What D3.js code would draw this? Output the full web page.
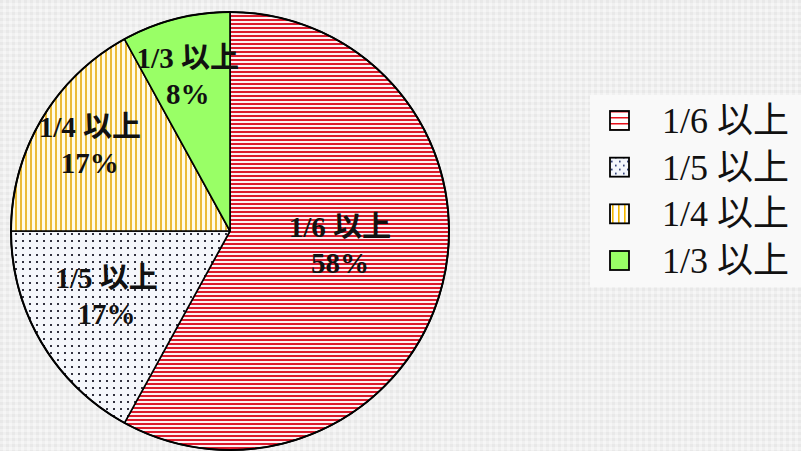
<!DOCTYPE html>
<html>
<head>
<meta charset="utf-8">
<script src="https://cdn.jsdelivr.net/npm/d3@7"></script>
<style>
  html, body { margin: 0; padding: 0; background: #eeeeee; }
  svg { display: block; }
</style>
</head>
<body>
<script>
// data
const categories = ["1/6 以上", "1/5 以上", "1/4 以上", "1/3 以上"];
const shares = [58, 17, 17, 8];

// layout
const width = 801;
const height = 451;
const cx = 230, cy = 231, radius = 219;
const labelRadius = [111, 140, 164, 160];      // label distance from center
const labelTurn = [-6.6, 2.4, 0.7, -0.9];      // small angle nudge, degrees
const fills = ["url(#p-red)", "url(#p-dots)", "url(#p-yellow)", "#99ff66"];
const legendFills = ["url(#l-red)", "url(#l-dots)", "url(#l-yellow)", "#99ff66"];
const serif = "'Liberation Serif', 'Times New Roman', 'Noto Sans CJK JP', serif";

const svg = d3.select("body")
    .append("svg")
    .attr("width", width)
    .attr("height", height);

const defs = svg.append("defs");

// page texture
const bg = defs.append("pattern").attr("id", "p-bg")
    .attr("patternUnits", "userSpaceOnUse").attr("width", 6).attr("height", 6);
bg.append("rect").attr("width", 6).attr("height", 6).attr("fill", "#f0f0f0");
bg.append("rect").attr("width", 3).attr("height", 3).attr("fill", "#e8e8e8");
bg.append("rect").attr("x", 3).attr("y", 3).attr("width", 3).attr("height", 3).attr("fill", "#f6f6f6");

// red horizontal stripes
const red = defs.append("pattern").attr("id", "p-red")
    .attr("patternUnits", "userSpaceOnUse").attr("width", 8).attr("height", 4);
red.append("rect").attr("width", 8).attr("height", 4).attr("fill", "#fdf0f2");
red.append("rect").attr("width", 8).attr("height", 2).attr("fill", "#dc1a2c");

// dots
const dots = defs.append("pattern").attr("id", "p-dots")
    .attr("patternUnits", "userSpaceOnUse").attr("width", 7).attr("height", 7);
dots.append("rect").attr("width", 7).attr("height", 7).attr("fill", "#f5f7fb");
dots.append("rect").attr("x", 2).attr("y", 2).attr("width", 2).attr("height", 2).attr("fill", "#333340");

// yellow vertical stripes
const yel = defs.append("pattern").attr("id", "p-yellow")
    .attr("patternUnits", "userSpaceOnUse").attr("width", 5).attr("height", 8);
yel.append("rect").attr("width", 5).attr("height", 8).attr("fill", "#fffbe6");
yel.append("rect").attr("width", 2).attr("height", 8).attr("fill", "#ebbb36");

// legend swatch patterns (coarser)
const lred = defs.append("pattern").attr("id", "l-red")
    .attr("patternUnits", "userSpaceOnUse").attr("width", 20).attr("height", 6)
    .attr("y", 1);
lred.append("rect").attr("width", 20).attr("height", 6).attr("fill", "#ffffff");
lred.append("rect").attr("y", 2).attr("width", 20).attr("height", 1.5).attr("fill", "#e8101a");

const ldots = defs.append("pattern").attr("id", "l-dots")
    .attr("patternUnits", "userSpaceOnUse").attr("width", 8).attr("height", 8);
ldots.append("rect").attr("width", 8).attr("height", 8).attr("fill", "#f4f7fc");
ldots.append("rect").attr("x", 2).attr("y", 2).attr("width", 1.6).attr("height", 1.6).attr("fill", "#1a2a6a");
ldots.append("rect").attr("x", 6).attr("y", 6).attr("width", 1.6).attr("height", 1.6).attr("fill", "#1a2a6a");

const lyel = defs.append("pattern").attr("id", "l-yellow")
    .attr("patternUnits", "userSpaceOnUse").attr("width", 6).attr("height", 20)
    .attr("x", 1);
lyel.append("rect").attr("width", 6).attr("height", 20).attr("fill", "#ffffff");
lyel.append("rect").attr("x", 2).attr("width", 1.6).attr("height", 20).attr("fill", "#f5b800");

svg.append("rect")
    .attr("width", width)
    .attr("height", height)
    .attr("fill", "url(#p-bg)");

// pie
const pie = d3.pie().sort(null).value(d => d);
const arcs = pie(shares);
const arc = d3.arc().innerRadius(0).outerRadius(radius);

const g = svg.append("g")
    .attr("transform", `translate(${cx},${cy})`);

g.selectAll("path")
    .data(arcs)
    .join("path")
    .attr("d", arc)
    .attr("fill", (d, i) => fills[i])
    .attr("stroke", "#000")
    .attr("stroke-width", 1.6)
    .attr("stroke-linejoin", "round");

g.append("circle")
    .attr("r", radius)
    .attr("fill", "none")
    .attr("stroke", "#000")
    .attr("stroke-width", 2);

const lab = g.selectAll("g.lab")
    .data(arcs)
    .join("g")
    .attr("class", "lab")
    .attr("transform", (d, i) => {
        const a = (d.startAngle + d.endAngle) / 2 + labelTurn[i] * Math.PI / 180;
        const r = labelRadius[i];
        return `translate(${r * Math.sin(a)},${-r * Math.cos(a)})`;
    })
    .style("font-family", serif)
    .style("font-size", "29px")
    .style("font-weight", "bold")
    .attr("text-anchor", "middle")
    .attr("fill", "#111");

lab.append("text")
    .attr("y", -9)
    .text((d, i) => categories[i]);
lab.append("text")
    .attr("y", 27)
    .text(d => d.value + "%");

// legend
const legend = svg.append("g");
legend.append("rect")
    .attr("x", 590)
    .attr("y", 95)
    .attr("width", 211)
    .attr("height", 192)
    .attr("fill", "#f9f9f9");

const ly = d3.scalePoint()
    .domain(categories)
    .range([120, 260]);

const item = legend.selectAll("g.item")
    .data(categories)
    .join("g")
    .attr("class", "item")
    .attr("transform", d => `translate(609,${ly(d)})`);

item.append("rect")
    .attr("x", 1)
    .attr("y", -9)
    .attr("width", 19)
    .attr("height", 19)
    .attr("fill", (d, i) => legendFills[i])
    .attr("stroke", "#000")
    .attr("stroke-width", 1.8);

item.append("text")
    .attr("x", 53)
    .attr("y", 13)
    .style("font-family", serif)
    .style("font-size", "36px")
    .attr("fill", "#111")
    .text(d => d);
</script>
</body>
</html>
